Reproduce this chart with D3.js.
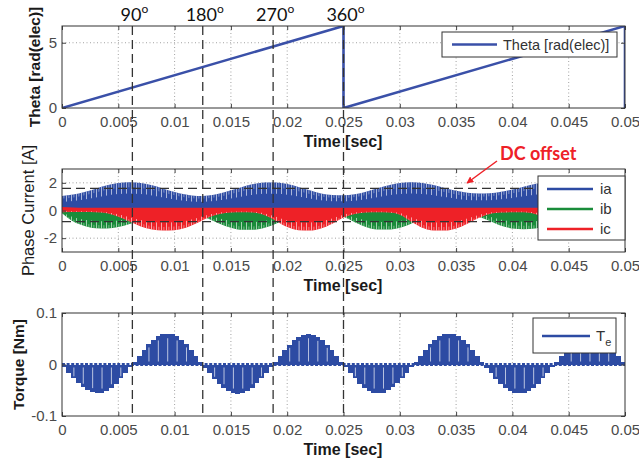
<!DOCTYPE html>
<html>
<head>
<meta charset="utf-8">
<script src="https://cdn.jsdelivr.net/npm/d3@7"></script>
<style>
  body { margin: 0; background: #fff; }
  svg { display: block; font-family: "Liberation Sans", Arial, sans-serif; }
</style>
</head>
<body>
<div id="chart"></div>
<script>
// ---- data ----
const xTicks = [0, 0.005, 0.01, 0.015, 0.02, 0.025, 0.03, 0.035, 0.04, 0.045, 0.05];
const xTickLabels = ["0", "0.005", "0.01", "0.015", "0.02", "0.025", "0.03", "0.035", "0.04", "0.045", "0.05"];

const markerTimes = [0.00625, 0.0125, 0.01875, 0.025];
const markerLabels = ["90", "180", "270", "360"];

// top: electrical angle
const thetaTime = [0, 0.025, 0.025, 0.05, 0.05];
const thetaVal = [0, 6.2832, 0, 6.2832, 0];

// middle: phase current envelopes, sampled every 1 ms
const curTimeMs = [0,1,2,3,4,5,6,7,8,9,10,11,12,13,14,15,16,17,18,19,20,21,22,23,24,25,
  26,27,28,29,30,31,32,33,34,35,36,37,38,39,40,41,42,43,44,45,46,47,48,49,50];
const iaHi = [1.05,1.15,1.34,1.58,1.82,1.99,2.05,1.99,1.82,1.58,1.34,1.15,1.05,1.09,1.23,1.46,1.70,1.91,2.03,2.03,1.91,1.70,1.46,1.23,1.12,
  1.10,1.18,1.36,1.60,1.83,1.99,2.05,1.99,1.84,1.62,1.42,1.28,1.22,1.25,1.36,1.52,1.72,1.91,2.02,2.02,1.91,1.72,1.48,1.26,1.12,1.08];
const iaLo = [0,0,0,0,0,0,0,0,0,0,0,0,0,0,0,0,0,0,0,0,0,0,0,0,0,
  0,0,0,0,0,0,0,0,0,0,0,0,0,0,0,0,0,0,0,0,0,0,0,0,0,0];
const ibHi = [0,0,0,0,0,0,0,0,0,0,0,0,0,0,0,0,0,0,0,0,0,0,0,0,0,
  0,0,0,0,0,0,0,0,0,0,0,0,0,0,0,0,0,0,0,0,0,0,0,0,0,0];
const ibLo = [-0.2,-0.8,-1.12,-1.28,-1.3,-1.2,-0.98,-0.7,-0.45,-0.3,-0.25,-0.25,-0.3,-0.6,-0.95,-1.25,-1.4,-1.4,-1.25,-0.95,-0.6,-0.35,-0.25,-0.25,-0.3,
  -0.45,-0.85,-1.2,-1.38,-1.38,-1.25,-0.95,-0.6,-0.35,-0.25,-0.25,-0.3,-0.45,-0.75,-1.1,-1.3,-1.35,-1.3,-1.1,-0.8,-0.5,-0.3,-0.25,-0.25,-0.35,-0.6];
const icHi = [0.25,0.22,0.2,0.2,0.2,0.2,0.2,0.2,0.2,0.2,0.2,0.2,0.2,0.2,0.2,0.2,0.2,0.2,0.2,0.2,0.2,0.2,0.2,0.2,0.2,
  0.2,0.2,0.2,0.2,0.2,0.2,0.2,0.2,0.2,0.2,0.2,0.2,0.2,0.2,0.2,0.2,0.2,0.2,0.2,0.2,0.2,0.2,0.2,0.2,0.2,0.2];
const icLo = [-0.12,-0.1,-0.1,-0.12,-0.2,-0.45,-0.8,-1.15,-1.38,-1.45,-1.42,-1.25,-0.9,-0.5,-0.25,-0.15,-0.12,-0.15,-0.35,-0.75,-1.2,-1.42,-1.45,-1.3,-0.95,
  -0.5,-0.25,-0.15,-0.12,-0.15,-0.3,-0.8,-1.25,-1.45,-1.45,-1.3,-0.95,-0.55,-0.25,-0.15,-0.12,-0.12,-0.25,-0.55,-0.95,-1.3,-1.45,-1.42,-1.25,-0.9,-0.5];
const dcOffset = [1.6, -0.8];

// bottom: electromagnetic torque, one value per PWM step (120 steps over 0.05 s)
const torqueStep = 0.05 / 120;
const torque = [
  -0.005,-0.016,-0.027,-0.036,-0.044,-0.050,-0.054,-0.056,-0.055,-0.051,-0.045,-0.037,-0.027,-0.016,-0.005,
  0.005,0.017,0.029,0.039,0.048,0.055,0.059,0.060,0.059,0.055,0.048,0.039,0.029,0.017,0.005,
  -0.006,-0.017,-0.028,-0.037,-0.045,-0.051,-0.055,-0.057,-0.055,-0.051,-0.045,-0.036,-0.027,-0.016,-0.005,
  0.005,0.016,0.028,0.038,0.047,0.054,0.058,0.060,0.058,0.054,0.047,0.038,0.028,0.016,0.005,
  -0.005,-0.016,-0.027,-0.037,-0.045,-0.051,-0.055,-0.056,-0.055,-0.050,-0.044,-0.036,-0.027,-0.016,-0.005,
  0.005,0.017,0.029,0.039,0.048,0.055,0.059,0.060,0.059,0.055,0.048,0.039,0.029,0.017,0.005,
  -0.006,-0.017,-0.028,-0.037,-0.045,-0.051,-0.055,-0.056,-0.055,-0.051,-0.045,-0.037,-0.027,-0.016,-0.005,
  0.005,0.016,0.028,0.038,0.047,0.054,0.058,0.060,0.058,0.054,0.047,0.038,0.028,0.016,0.005
];

// ---- drawing ----
const width = 639, height = 464;
const blue = "#2d4ba3", green = "#1a8c3a", red = "#ee2127";

const svg = d3.select("#chart").append("svg")
  .attr("width", width).attr("height", height);

const defs = svg.append("defs");
[["hairA", 5, 1, 1, 0.6], ["hairB", 5, 3.5, 0.8, 0.5]].forEach(([id, w, x0, lw, op]) => {
  const p = defs.append("pattern").attr("id", id).attr("patternUnits", "userSpaceOnUse")
    .attr("width", w).attr("height", 20);
  p.append("rect").attr("x", x0).attr("y", 0).attr("width", lw).attr("height", 20)
    .attr("fill", "#fff").attr("opacity", op);
});
const mk = defs.append("marker").attr("id", "arrow").attr("viewBox", "0 0 10 10")
  .attr("refX", 9).attr("refY", 5).attr("markerWidth", 7).attr("markerHeight", 7)
  .attr("orient", "auto-start-reverse").attr("markerUnits", "userSpaceOnUse");
mk.append("path").attr("d", "M0,0 L10,5 L0,10 z").attr("fill", red);

const x = d3.scaleLinear().domain([0, 0.05]).range([62, 625]);
const yTop = d3.scaleLinear().domain([0, 2 * Math.PI]).range([108, 26]);
const yMid = d3.scaleLinear().domain([-3, 3]).range([252, 169]);
const yBot = d3.scaleLinear().domain([-0.1, 0.1]).range([416, 313]);

function clip(id, yS) {
  const [yb, yt] = yS.range();
  defs.append("clipPath").attr("id", id).append("rect")
    .attr("x", x(0)).attr("y", yt).attr("width", x(0.05) - x(0)).attr("height", yb - yt);
  return "url(#" + id + ")";
}

function grid(yS, yGrid) {
  const [yb, yt] = yS.range();
  const g = svg.append("g").attr("stroke", "#8a8a8a").attr("stroke-width", 0.8)
    .attr("stroke-dasharray", "1,2.5");
  g.selectAll(".gx").data(xTicks.slice(1, -1)).join("line")
    .attr("x1", d => x(d)).attr("x2", d => x(d)).attr("y1", yt).attr("y2", yb);
  g.selectAll(".gy").data(yGrid).join("line")
    .attr("x1", x(0)).attr("x2", x(0.05)).attr("y1", d => yS(d)).attr("y2", d => yS(d));
}

function frame(yS, yTicks, yTickLabels, yLabel, labelX, bold) {
  const [yb, yt] = yS.range();
  const styleAxis = g => {
    g.select(".domain").remove();
    g.selectAll("line").attr("stroke", "#444");
    g.selectAll("text").attr("fill", "#4a4a4a").attr("font-size", 15)
      .attr("font-family", "Liberation Sans, Arial, sans-serif");
  };
  svg.append("g").attr("transform", `translate(0,${yb})`)
    .call(d3.axisBottom(x).tickValues(xTicks).tickFormat((d, i) => xTickLabels[i])
      .tickSizeInner(-4).tickSizeOuter(0).tickPadding(8.5))
    .call(styleAxis);
  svg.append("g").attr("transform", `translate(0,${yt})`)
    .call(d3.axisTop(x).tickValues(xTicks).tickFormat("").tickSizeInner(-4).tickSizeOuter(0))
    .call(styleAxis);
  svg.append("g").attr("transform", `translate(${x(0)},0)`)
    .call(d3.axisLeft(yS).tickValues(yTicks).tickFormat((d, i) => yTickLabels[i])
      .tickSizeInner(-4).tickSizeOuter(0).tickPadding(5))
    .call(styleAxis);
  svg.append("g").attr("transform", `translate(${x(0.05)},0)`)
    .call(d3.axisRight(yS).tickValues(yTicks).tickFormat("").tickSizeInner(-4).tickSizeOuter(0))
    .call(styleAxis);
  svg.append("rect").attr("x", x(0)).attr("y", yt)
    .attr("width", x(0.05) - x(0)).attr("height", yb - yt)
    .attr("fill", "none").attr("stroke", "#333").attr("stroke-width", 1);
  // axis titles
  svg.append("text").attr("x", 343).attr("y", yb + 39)
    .attr("text-anchor", "middle").attr("font-weight", "bold").attr("font-size", 16)
    .attr("fill", "#1a1a1a").text("Time [sec]");
  svg.append("text").attr("transform", `translate(${labelX},${(yb + yt) / 2}) rotate(-90)`)
    .attr("text-anchor", "middle").attr("font-size", bold ? 15.5 : 16.5)
    .attr("font-weight", bold ? "bold" : "normal")
    .attr("fill", "#1a1a1a").text(yLabel);
}

function legendBox(x0, y0, x1, y1) {
  svg.append("rect").attr("x", x0).attr("y", y0).attr("width", x1 - x0).attr("height", y1 - y0)
    .attr("fill", "#fff").attr("stroke", "#333").attr("stroke-width", 1);
}

// ===== TOP: theta =====
grid(yTop, [5]);
const cTop = clip("cTop", yTop);
svg.append("path").datum(thetaTime.map((t, i) => [t, thetaVal[i]]))
  .attr("clip-path", cTop)
  .attr("d", d3.line().x(d => x(d[0])).y(d => yTop(d[1])))
  .attr("fill", "none").attr("stroke", "#3a50a8").attr("stroke-width", 2.6);
frame(yTop, [0, 5], ["0", "5"], "Theta [rad(elec)]", 40, true);
legendBox(442, 32, 617, 57);
svg.append("line").attr("x1", 452).attr("x2", 497).attr("y1", 44.5).attr("y2", 44.5)
  .attr("stroke", "#3a50a8").attr("stroke-width", 2.6);
svg.append("text").attr("x", 503).attr("y", 49.5).attr("font-size", 14.5).attr("fill", "#333")
  .text("Theta [rad(elec)]");

// ===== MIDDLE: phase currents =====
grid(yMid, [-2, 0, 2]);
const cMid = clip("cMid", yMid);
const gMid = svg.append("g").attr("clip-path", cMid);
const tS = d => d / 1000;
const bands = [
  { hi: iaHi, lo: iaLo, color: blue, up: true },
  { hi: ibHi, lo: ibLo, color: green, up: false },
  { hi: icHi, lo: icLo, color: red, up: false }
];
bands.forEach(b => {
  const pts = curTimeMs.map((t, i) => ({ t: tS(t), hi: b.hi[i], lo: b.lo[i] }));
  gMid.append("path").datum(pts)
    .attr("d", d3.area().curve(d3.curveMonotoneX).x(d => x(d.t)).y0(d => yMid(d.lo)).y1(d => yMid(d.hi)))
    .attr("fill", b.color);
  // PWM chopping shows as white hairs on the outer edge of each band
  const edge = b.up ? (d => d.hi) : (d => d.lo);
  [["hairA", 0.6], ["hairB", 0.82]].forEach(([pat, k]) => {
    gMid.append("path").datum(pts)
      .attr("d", d3.area().curve(d3.curveMonotoneX).x(d => x(d.t))
        .y0(d => yMid(edge(d) * k)).y1(d => yMid(edge(d))))
      .attr("fill", `url(#${pat})`);
  });
});
svg.append("g").selectAll("line").data(dcOffset).join("line")
  .attr("x1", x(0)).attr("x2", x(0.05)).attr("y1", d => yMid(d)).attr("y2", d => yMid(d))
  .attr("stroke", "#333").attr("stroke-width", 1.3).attr("stroke-dasharray", "9,5");
frame(yMid, [-2, 0, 2], ["-2", "0", "2"], "Phase Current [A]", 34, false);
legendBox(538, 176, 625, 240);
[["ia", blue], ["ib", green], ["ic", red]].forEach(([name, c], i) => {
  const yy = 189 + i * 20;
  svg.append("line").attr("x1", 547).attr("x2", 593).attr("y1", yy).attr("y2", yy)
    .attr("stroke", c).attr("stroke-width", 2.6);
  svg.append("text").attr("x", 600).attr("y", yy + 5).attr("font-size", 15).attr("fill", "#333").text(name);
});
svg.append("text").attr("x", 500).attr("y", 160).attr("font-family", "Lato, 'Liberation Sans', sans-serif")
  .attr("font-weight", "bold").attr("font-size", 18).attr("fill", red).text("DC offset");
svg.append("line").attr("x1", 497).attr("y1", 161).attr("x2", 467).attr("y2", 183)
  .attr("stroke", red).attr("stroke-width", 1.5).attr("marker-end", "url(#arrow)");

// ===== BOTTOM: torque =====
grid(yBot, []);
const cBot = clip("cBot", yBot);
const gBot = svg.append("g").attr("clip-path", cBot);
gBot.append("line").attr("x1", x(0)).attr("x2", x(0.05)).attr("y1", yBot(0)).attr("y2", yBot(0))
  .attr("stroke", blue).attr("stroke-width", 3).attr("stroke-dasharray", "3,1.6");
gBot.selectAll(".bar").data(torque).join("rect")
  .attr("x", (d, i) => x(i * torqueStep) - 0.2)
  .attr("width", x(torqueStep) - x(0) + 0.4)
  .attr("y", d => yBot(Math.max(0, d)))
  .attr("height", d => Math.abs(yBot(d) - yBot(0)))
  .attr("fill", blue).attr("shape-rendering", "crispEdges");
// white chopping hairs on every other step
gBot.selectAll(".hair").data(torque.map((d, i) => ({ d, i })).filter(o => Math.abs(o.d) > 0.02 && o.i % 2 === 0))
  .join("line")
  .attr("x1", o => x(o.i * torqueStep) + 2.5).attr("x2", o => x(o.i * torqueStep) + 2.5)
  .attr("y1", o => yBot(0) + (o.d < 0 ? 3 : -3)).attr("y2", o => yBot(o.d * 0.85))
  .attr("stroke", "#fff").attr("stroke-width", 0.9).attr("opacity", 0.75);
frame(yBot, [-0.1, 0, 0.1], ["-0.1", "0", "0.1"], "Torque [Nm]", 24, true);
legendBox(533, 318, 616, 353);
svg.append("line").attr("x1", 542).attr("x2", 590).attr("y1", 336).attr("y2", 336)
  .attr("stroke", blue).attr("stroke-width", 2.6);
const te = svg.append("text").attr("x", 596).attr("y", 341).attr("font-size", 15).attr("fill", "#333");
te.append("tspan").text("T");
te.append("tspan").attr("font-size", 11).attr("dy", 5).text("e");

// ===== angle markers across all panels =====
svg.append("g").selectAll("line").data(markerTimes).join("line")
  .attr("x1", d => x(d)).attr("x2", d => x(d)).attr("y1", 26).attr("y2", 416)
  .attr("stroke", "#333").attr("stroke-width", 1.3).attr("stroke-dasharray", "9,5");
const ml = svg.append("g").selectAll("text").data(markerLabels).join("text")
  .attr("x", (d, i) => x(markerTimes[i]) + 2).attr("y", 21)
  .attr("text-anchor", "middle").attr("font-family", "Lato, 'Liberation Sans', sans-serif")
  .attr("font-size", 18).attr("fill", "#111");
ml.append("tspan").text(d => d);
ml.append("tspan").attr("font-size", 12).attr("dy", -8).text("o");
</script>
</body>
</html>
